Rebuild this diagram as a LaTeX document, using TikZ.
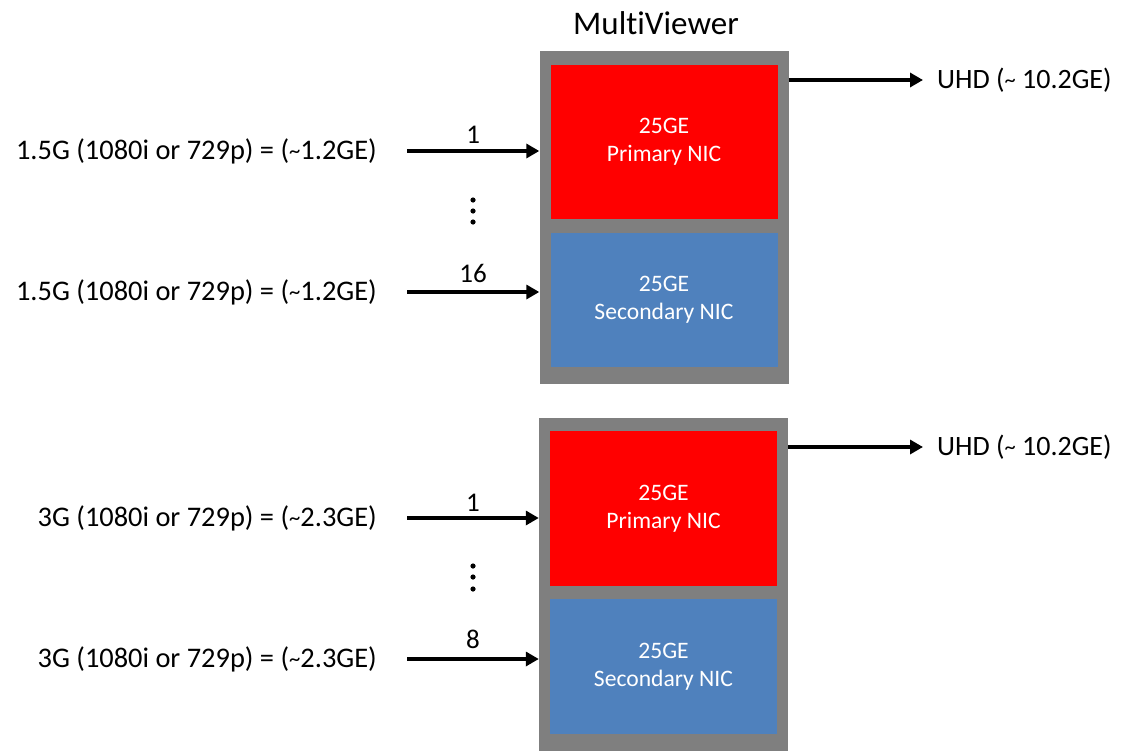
\documentclass[tikz,border=0pt]{standalone}
\usepackage{fontspec}
\setmainfont{Carlito}[Ligatures=NoCommon]
\usetikzlibrary{arrows.meta}
\definecolor{casegray}{HTML}{7F7F7F}
\definecolor{nicred}{HTML}{FF0000}
\definecolor{nicblue}{HTML}{4F81BD}
\newcommand{\approxsign}{\raisebox{0.05ex}{\scalebox{0.8}{\char`~}}}
\tikzset{
  chassis/.style={fill=casegray, draw=none, inner sep=0pt, minimum width=249pt, minimum height=333pt},
  nic/.style={draw=none, inner sep=0pt, minimum width=227pt, text=white, align=center,
    font=\fontsize{23.6}{28}\selectfont},
  srclabel/.style={anchor=east, inner sep=0pt, font=\fontsize{28.4}{32}\selectfont},
  outlabel/.style={anchor=west, inner sep=0pt, font=\fontsize{28}{32}\selectfont},
  chan/.style={inner sep=0pt, anchor=base, font=\fontsize{27}{30}\selectfont},
  feed/.style={line width=3.5pt, -{Triangle[length=13pt,width=14pt]}},
  dotmark/.style={fill=black, draw=none}
}
\begin{document}
\begin{tikzpicture}[x=1pt,y=-1pt]
\useasboundingbox (0,0) rectangle (1124,752);

% title
\node[inner sep=0pt, font=\fontsize{33}{36}\selectfont] (title) at (656,23) {MultiViewer};

% first MultiViewer chassis
\node[chassis] (mvA) at (664,217.5) {};
\node[nic, fill=nicred, minimum height=154pt] (priA) at (664,142) {25GE\\Primary NIC};
\node[nic, fill=nicblue, minimum height=134pt] (secA) at (664,300) {25GE\\Secondary NIC};

% second MultiViewer chassis
\node[chassis] (mvB) at (663.5,584.5) {};
\node[nic, fill=nicred, minimum height=155pt] (priB) at (663.5,508.5) {25GE\\Primary NIC};
\node[nic, fill=nicblue, minimum height=135pt] (secB) at (663.5,666.5) {25GE\\Secondary NIC};

% source streams
\node[srclabel] (inA1) at (377,151) {1.5G (1080i or 729p) = (\approxsign1.2GE)};
\node[srclabel] (inA2) at (377,292) {1.5G (1080i or 729p) = (\approxsign1.2GE)};
\node[srclabel] (inB1) at (377,518) {3G (1080i or 729p) = (\approxsign2.3GE)};
\node[srclabel] (inB2) at (377,659) {3G (1080i or 729p) = (\approxsign2.3GE)};

% UHD outputs
\node[outlabel] (outA) at (937,80) {UHD (\approxsign\ 10.2GE)};
\node[outlabel] (outB) at (937,447) {UHD (\approxsign\ 10.2GE)};

% input feeds
\draw[feed] ([xshift=30pt]inA1.east) -- (inA1 -| mvA.west)
  node[chan, midway, yshift=8pt] {1};
\draw[feed] ([xshift=30pt]inA2.east) -- (inA2 -| mvA.west)
  node[chan, midway, yshift=10pt] {16};
\draw[feed] ([xshift=30pt]inB1.east) -- (inB1 -| mvB.west)
  node[chan, midway, yshift=7pt] {1};
\draw[feed] ([xshift=30pt]inB2.east) -- (inB2 -| mvB.west)
  node[chan, midway, yshift=11pt] {8};

% output feeds
\draw[feed] (outA -| mvA.east) -- ([xshift=-14pt]outA.west);
\draw[feed] (outB -| mvB.east) -- ([xshift=-14pt]outB.west);

% vertical ellipses between channels
\foreach \yy in {200,211,222} \fill[dotmark] (473,\yy) circle (2.6pt);
\foreach \yy in {566,577,589} \fill[dotmark] (473,\yy) circle (2.6pt);
\end{tikzpicture}
\end{document}
